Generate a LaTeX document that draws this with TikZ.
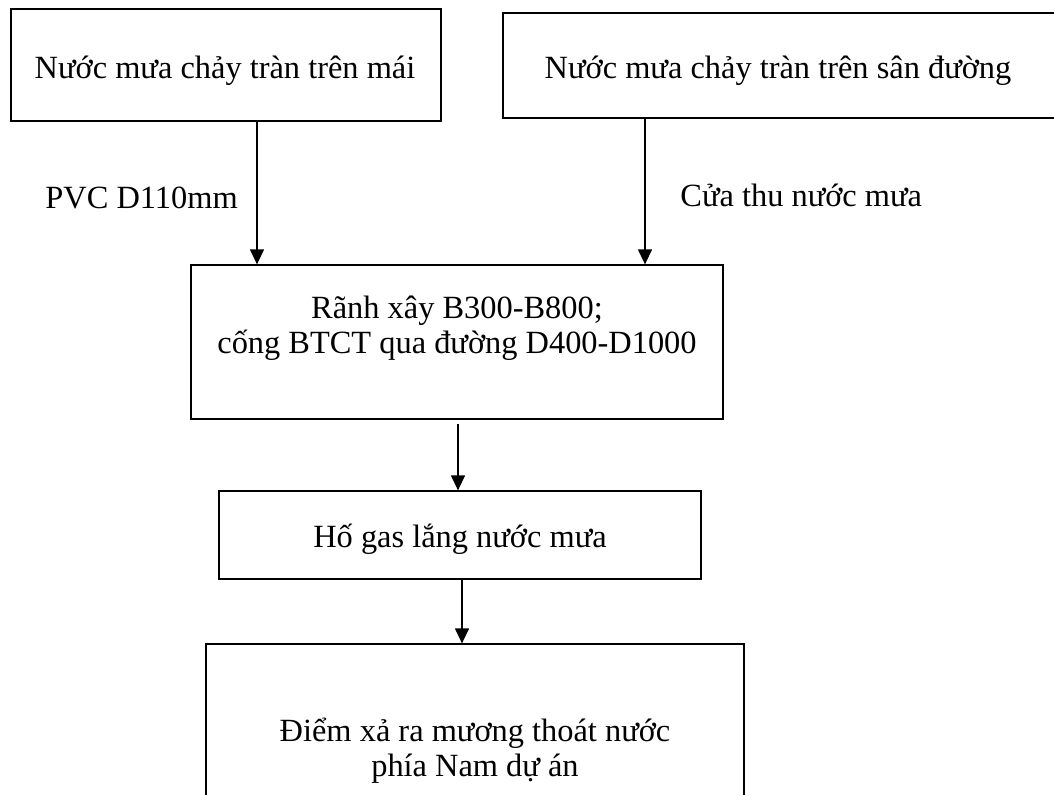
\documentclass[tikz,border=0pt]{standalone}
\usepackage{fontspec}
\setmainfont{Liberation Serif}
\usetikzlibrary{arrows.meta}

\tikzset{
  box/.style={draw, line width=0.65pt, inner sep=0pt},
  lbl/.style={inner sep=0pt, font=\fontsize{16.2}{17.5}\selectfont, align=center},
  flow/.style={line width=0.65pt, -{Triangle[length=7.5pt,width=7pt]}}
}

\begin{document}
\begin{tikzpicture}[x=0.5pt,y=0.5pt,yscale=-1,xscale=1]
\useasboundingbox (0,0) rectangle (1054,794);

%Shape: Rectangle [mai]
\node[box, minimum width=215pt, minimum height=56pt] (mai) at (226,65) {};
%Shape: Rectangle [san]
\node[box, minimum width=277.5pt, minimum height=52.5pt] (san) at (780.5,65.5) {};
%Shape: Rectangle [ranh]
\node[box, minimum width=266pt, minimum height=77pt] (ranh) at (457,342) {};
%Shape: Rectangle [hoga]
\node[box, minimum width=241pt, minimum height=44pt] (hoga) at (460,535) {};
%Shape: Rectangle [xa]
\node[box, minimum width=269pt, minimum height=90pt] (xa) at (475,734) {};

\coordinate (c1) at (257,0);
\coordinate (c2) at (645,0);
\coordinate (c3) at (458,0);
\coordinate (c4) at (462,0);

%Straight Lines
\draw[flow] (mai.south -| c1) -- (ranh.north -| c1);
%Straight Lines
\draw[flow] (san.south -| c2) -- (ranh.north -| c2);
%Straight Lines
\draw[flow, shorten <=2pt] (ranh.south -| c3) -- (hoga.north -| c3);
%Straight Lines
\draw[flow] (hoga.south -| c4) -- (xa.north -| c4);

% Text Node
\node[lbl, anchor=base] (tmai) at (225,78) {Nước mưa chảy tràn trên mái};
% Text Node
\node[lbl, anchor=base] (tsan) at (778,78) {Nước mưa chảy tràn trên sân đường};
% Text Node
\node[lbl, anchor=base west] (tpvc) at (45,208) {PVC D110mm};
% Text Node
\node[lbl, anchor=base west] (tcua) at (680,206) {Cửa thu nước mưa};
% Text Node
\node[lbl, anchor=base] (tranh) at (457,353) {Rãnh xây B300-B800;\\cống BTCT qua đường D400-D1000};
% Text Node
\node[lbl, anchor=base] (thoga) at (460,547) {Hố gas lắng nước mưa};
% Text Node
\node[lbl, anchor=base] (txa) at (475,776) {Điểm xả ra mương thoát nước\\phía Nam dự án};

\end{tikzpicture}
\end{document}
